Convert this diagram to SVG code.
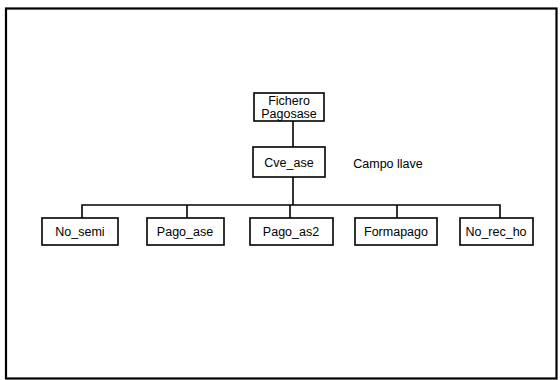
<svg xmlns="http://www.w3.org/2000/svg" width="560" height="380" viewBox="0 0 560 380">
<style>
.box{fill:#fff;stroke:#000;stroke-width:1.6}
.t{font-family:"Liberation Sans",Arial,sans-serif;font-size:12.5px;fill:#000;text-anchor:middle}
.c{fill:none;stroke:#000;stroke-width:1.6}
</style>
<rect x="0" y="0" width="560" height="380" fill="#fff"/>
<rect x="6" y="8.5" width="550.5" height="370" fill="none" stroke="#000" stroke-width="2.2"/>
<g id="connectors">
<path class="c" d="M293 121 V147"/>
<path class="c" d="M293 177 V205"/>
<path class="c" d="M82 218 V205 H500 V218"/>
<path class="c" d="M187 205 V218"/>
<path class="c" d="M290 205 V218"/>
<path class="c" d="M397 205 V218"/>
</g>
<g id="fichero"><rect class="box" x="254" y="93" width="70" height="28"/><text class="t" x="289" y="105">Fichero</text><text class="t" x="289" y="118">Pagosase</text></g>
<g id="cve_ase"><rect class="box" x="253" y="147" width="72" height="30"/><text class="t" x="289" y="167">Cve_ase</text></g>
<g id="campo"><text class="t" x="388" y="168">Campo llave</text></g>
<g id="no_semi"><rect class="box" x="42" y="218" width="76" height="27"/><text class="t" x="80" y="236">No_semi</text></g>
<g id="pago_ase"><rect class="box" x="147" y="218" width="77" height="27"/><text class="t" x="185" y="236">Pago_ase</text></g>
<g id="pago_as2"><rect class="box" x="250" y="218" width="83" height="27"/><text class="t" x="291" y="236">Pago_as2</text></g>
<g id="formapago"><rect class="box" x="355" y="218" width="82" height="27"/><text class="t" x="396" y="236">Formapago</text></g>
<g id="no_rec_ho"><rect class="box" x="460" y="218" width="73" height="27"/><text class="t" x="496" y="236">No_rec_ho</text></g>
</svg>
